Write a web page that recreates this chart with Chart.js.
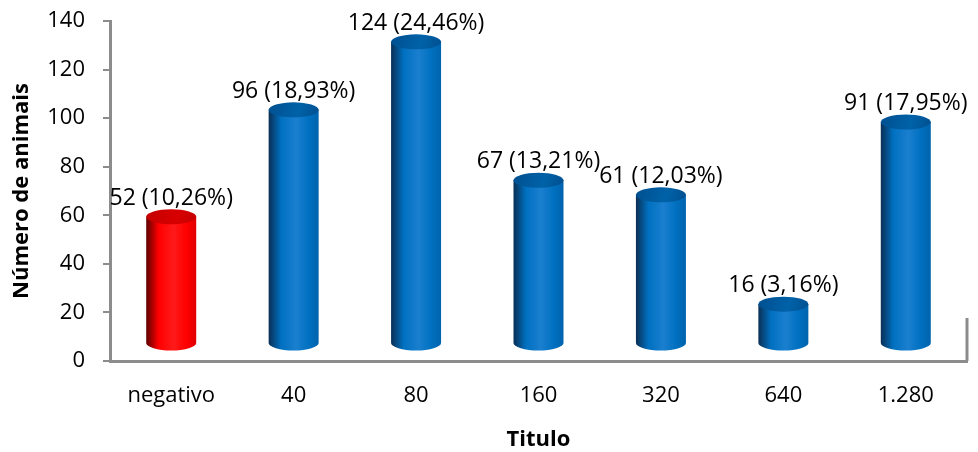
<!DOCTYPE html>
<html>
<head>
<meta charset="utf-8">
<script src="https://cdn.jsdelivr.net/npm/chart.js@4"></script>
<style>
  html, body { margin: 0; padding: 0; background: #ffffff; }
  #wrap { width: 978px; height: 452px; position: relative; }
</style>
</head>
<body>
<div id="wrap"><canvas id="c" width="978" height="452"></canvas></div>
<script>
const categories = ["negativo", "40", "80", "160", "320", "640", "1.280"];
const values = [52, 96, 124, 67, 61, 16, 91];
const percentLabels = ["10,26%", "18,93%", "24,46%", "13,21%", "12,03%", "3,16%", "17,95%"];
const yTicks = [0, 20, 40, 60, 80, 100, 120, 140];

const FONT = "'Open Sans', 'Noto Sans', sans-serif";
const RED = { dark: '#5e0000', mid: '#ff0000', light: '#ff1a1a', right: '#e00000', top: '#c40000', top2: '#d80000' };
const BLUE = { dark: '#0a2f55', mid: '#0070c0', light: '#1b7fcf', right: '#0063ad', top: '#004f8f', top2: '#0062a8' };

const cylinderPlugin = {
  id: 'cylinders',
  afterDatasetsDraw(chart) {
    const ctx = chart.ctx;
    const meta = chart.getDatasetMeta(0);
    const yScale = chart.scales.y;
    const ca = chart.chartArea;
    const depth = 18;
    const ry = 7.5;
    ctx.save();
    ctx.strokeStyle = '#8c8c8c';
    ctx.lineWidth = 3;
    ctx.beginPath();
    ctx.moveTo(ca.right, yScale.getPixelForValue(0));
    ctx.lineTo(ca.right, yScale.getPixelForValue(0) - 43);
    ctx.stroke();

    meta.data.forEach((bar, i) => {
      const c = i === 0 ? RED : BLUE;
      const cx = bar.x;
      const rx = bar.width / 2;
      const yTop = yScale.getPixelForValue(values[i]) - depth;
      const yBot = yScale.getPixelForValue(0) - depth;
      const g = ctx.createLinearGradient(cx - rx, 0, cx + rx, 0);
      g.addColorStop(0, c.dark);
      g.addColorStop(0.25, c.mid);
      g.addColorStop(0.55, c.light);
      g.addColorStop(0.8, c.mid);
      g.addColorStop(1, c.right);
      ctx.fillStyle = g;
      ctx.beginPath();
      ctx.moveTo(cx - rx, yTop);
      ctx.lineTo(cx - rx, yBot);
      ctx.ellipse(cx, yBot, rx, ry, 0, Math.PI, 0, true);
      ctx.lineTo(cx + rx, yTop);
      ctx.closePath();
      ctx.fill();
      const gt = ctx.createLinearGradient(cx - rx, yTop - ry, cx + rx, yTop + ry);
      gt.addColorStop(0, c.top);
      gt.addColorStop(0.6, c.top2);
      gt.addColorStop(1, c.top);
      ctx.fillStyle = gt;
      ctx.beginPath();
      ctx.ellipse(cx, yTop, rx, ry, 0, 0, Math.PI * 2);
      ctx.fill();
      ctx.fillStyle = '#000000';
      ctx.font = "23px " + FONT;
      ctx.textAlign = 'center';
      ctx.textBaseline = 'middle';
      ctx.fillText(values[i] + ' (' + percentLabels[i] + ')', cx, yTop - ry - 11);
    });
    ctx.restore();
  }
};

new Chart(document.getElementById('c'), {
  type: 'bar',
  data: {
    labels: categories,
    datasets: [{
      data: values,
      backgroundColor: 'rgba(0,0,0,0)',
      borderWidth: 0,
      barThickness: 50
    }]
  },
  options: {
    responsive: false,
    animation: false,
    layout: { padding: { top: 21, right: 11, left: 0, bottom: 0 } },
    plugins: { legend: { display: false }, tooltip: { enabled: false } },
    scales: {
      x: {
        grid: { display: false, drawTicks: false },
        border: { display: true, color: '#8c8c8c', width: 3 },
        ticks: { color: '#000', font: { family: FONT, size: 22 }, padding: 22 },
        title: { display: true, text: 'Titulo', color: '#000', font: { family: FONT, size: 22, weight: 'bold' }, padding: { top: 0, bottom: -1 } },
        afterFit(s) { s.height = 91; s.paddingLeft = 0; s.paddingRight = 0; }
      },
      y: {
        min: 0,
        max: 140,
        afterBuildTicks(s) { s.ticks = yTicks.map(v => ({ value: v })); },
        grid: { display: true, drawOnChartArea: false, drawTicks: true, tickLength: 7, color: '#8c8c8c', lineWidth: 2 },
        border: { display: true, color: '#8c8c8c', width: 3 },
        ticks: { color: '#000', font: { family: FONT, size: 22 }, padding: 18 },
        title: { display: true, text: 'Número de animais', color: '#000', font: { family: FONT, size: 22, weight: 'bold' }, padding: { top: 9, bottom: 0 } },
        afterFit(s) { s.width = 110; s.paddingTop = 0; s.paddingBottom = 0; }
      }
    }
  },
  plugins: [cylinderPlugin]
});
</script>
</body>
</html>
